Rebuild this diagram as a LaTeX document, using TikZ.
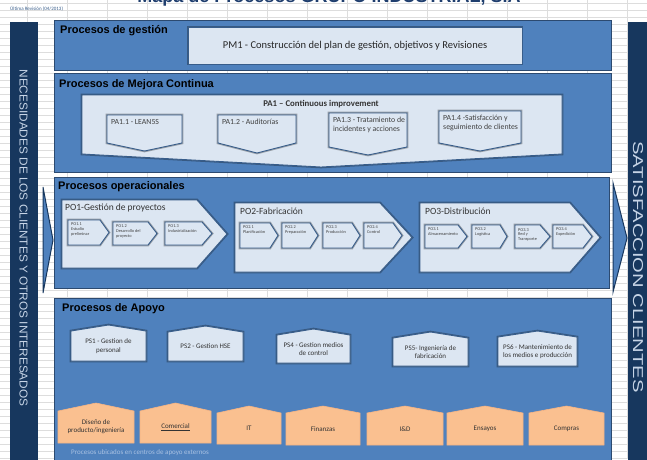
\documentclass[tikz,border=0pt]{standalone}
\usepackage{graphicx}
\usepackage{fontspec}
\setmainfont{Carlito}
\newfontfamily\arialf{Liberation Sans}

\definecolor{panelblue}{HTML}{4F81BD}
\definecolor{panelline}{HTML}{2C4A70}
\definecolor{boxfill}{HTML}{DCE6F2}
\definecolor{boxline}{HTML}{385D8A}
\definecolor{navy}{HTML}{17375E}
\definecolor{sidetext}{HTML}{C6D4E6}
\definecolor{orangefill}{HTML}{FAC090}
\definecolor{orangeline}{HTML}{F4B384}
\definecolor{gridgray}{HTML}{DDDDDD}
\definecolor{titleblue}{HTML}{1F3E6E}
\definecolor{notetext}{HTML}{A9C1E2}

\tikzset{
  panel/.style={fill=panelblue, draw=panelline, line width=0.8pt},
  boxst/.style={fill=boxfill, draw=boxline, line width=0.9pt,
    preaction={draw=black, draw opacity=0.3, line width=2.6pt}},
  orangest/.style={fill=orangefill, draw=orangeline, line width=0.6pt},
  sidearrow/.style={fill=panelblue, draw=navy, line width=1pt, line join=miter},
  ptitle/.style={font=\arialf\bfseries\fontsize{11}{12}\selectfont, anchor=west, inner sep=0pt},
  pmtxt/.style={font=\fontsize{10.5}{12}\selectfont, text=black!85},
  patxt/.style={font=\fontsize{7.8}{9}\selectfont, text=black!75, anchor=north west, align=left, inner sep=0pt},
  potitle/.style={font=\fontsize{9.5}{11}\selectfont, text=black!80, anchor=west, inner sep=0pt},
  optxt/.style={font=\fontsize{4.3}{4.9}\selectfont, text=black!75, anchor=north west, align=left, inner sep=0pt},
  pstxt/.style={font=\fontsize{7}{8.4}\selectfont, text=black!80, align=center, inner sep=0pt},
  ortxt/.style={font=\fontsize{7}{8.2}\selectfont, text=black!80, align=center, inner sep=0pt},
}

% right-pointing home plate: style, name, x-left, y-top, x-body-end, x-apex, y-bottom, text
\newcommand\homeR[8]{%
  \path[#1] (#3,#4) -- (#5,#4) -- (#6,{(#4+#7)/2}) -- (#5,#7) -- (#3,#7) -- cycle;
  \node[optxt] (#2) at (#3+3,#4+3) {#8};}
% downward pentagon: style, name, x-left, x-right, y-top, y-side, y-point, text
\newcommand\downPent[8]{%
  \path[#1] (#3,#5) -- (#4,#5) -- (#4,#6) -- ({(#3+#4)/2},#7) -- (#3,#6) -- cycle;
  \node[patxt] (#2) at (#3+4,#5+4) {#8};}
% house shape: style, name, x-left, x-right, y-peak, y-shoulder, y-bottom, text style, text
\newcommand\upPent[9]{%
  \path[#1] (#3,#6) -- ({(#3+#4)/2},#5) -- (#4,#6) -- (#4,#7) -- (#3,#7) -- cycle;
  \node[#8] (#2) at ({(#3+#4)/2},{(#6+#7)/2}) {#9};}

\begin{document}
\begin{tikzpicture}[x=1pt, y=-1pt]
\useasboundingbox (0,0) rectangle (647,459);
\begin{scope}
\clip (0,0) rectangle (647,459);

% sheet grid
\foreach \gx in {27,67,...,627} \draw[gridgray, line width=0.5pt] (\gx,0) -- (\gx,459);
\foreach \gy in {3,10,...,458} \draw[gridgray, line width=0.5pt] (0,\gy) -- (647,\gy);

% sheet heading and revision note
\node[font=\arialf\bfseries\fontsize{18}{20}\selectfont, text=titleblue, anchor=base, inner sep=0pt]
  (heading) at (329,2) {Mapa de Procesos GRUPO INDUSTRIAL, S.A};
\node[font=\fontsize{5}{6}\selectfont, text=boxline, anchor=west, inner sep=0pt]
  (rev) at (10,9) {Última Revisión (04/2013)};

% side bars
\fill[navy] (10,22) rectangle (38,462);
\fill[navy] (628,22) rectangle (650,462);
\node[rotate=-90, text=sidetext, inner sep=0pt] (needs) at (23.5,238)
  {\resizebox{337pt}{8pt}{\arialf NECESIDADES DE LOS CLIENTES Y OTROS INTERESADOS}};
\node[rotate=-90, text=sidetext, inner sep=0pt] (satisf) at (638,267)
  {\resizebox{251pt}{10pt}{\arialf SATISFACCION CLIENTES}};

% ---------- management ----------
\path[panel] (54,20) rectangle (611,70);
\node[ptitle] (tgest) at (60,31) {Procesos de gestión};
\path[boxst] (188,27) rectangle (522,64);
\node[pmtxt] (pm1) at (355,46) {PM1 - Construcción del plan de gestión, objetivos y Revisiones};

% ---------- continuous improvement ----------
\path[panel] (54,73) rectangle (611,172);
\node[ptitle] (tmejora) at (59,85) {Procesos de Mejora Continua};
\path[boxst] (82,95) -- (562,95) -- (562,154) -- (321,167) -- (82,154) -- cycle;
\node[font=\bfseries\fontsize{8.8}{10}\selectfont, text=black!80] (pa1) at (321,104) {PA1 – Continuous improvement};
\downPent{boxst}{pa11}{107}{182}{115}{143}{151}{PA1.1 - LEAN5S}
\downPent{boxst}{pa12}{218}{296}{115}{143}{153}{PA1.2 - Auditorías}
\downPent{boxst}{pa13}{329}{407}{113}{147}{155}{PA1.3 - Tratamiento de\\incidentes y acciones}
\downPent{boxst}{pa14}{439}{521}{111}{143}{151}{PA1.4 -Satisfacción y\\seguimiento de clientes}

% ---------- operational ----------
\path[panel] (54,177) rectangle (609,288);
\node[ptitle] (toper) at (58,187) {Procesos operacionales};

\path[boxst] (62,200) -- (197,200) -- (227,234) -- (197,268) -- (62,268) -- cycle;
\node[potitle] (po1) at (65,208) {PO1-Gestión de proyectos};
\homeR{boxst}{po11}{68}{220}{100}{109}{245}{PO1.1\\Estudio\\preliminar}
\homeR{boxst}{po12}{113}{222}{148}{157}{245}{PO1.2\\Desarrollo del\\proyecto}
\homeR{boxst}{po13}{165}{222}{202}{212}{245}{PO1.3\\Industrialización}

\path[boxst] (235,203) -- (380,203) -- (412,237.5) -- (380,272) -- (235,272) -- cycle;
\node[potitle] (po2) at (240,211) {PO2-Fabricación};
\homeR{boxst}{po21}{240}{223}{270}{278}{248}{PO2.1\\Planificación}
\homeR{boxst}{po22}{282}{223}{310}{318}{248}{PO2.2\\Preparación}
\homeR{boxst}{po23}{323}{223}{352}{360}{248}{PO2.3\\Producción}
\homeR{boxst}{po24}{364}{223}{393}{402}{248}{PO2.4\\Control}

\path[boxst] (420,203) -- (570,203) -- (600,237.5) -- (570,272) -- (420,272) -- cycle;
\node[potitle] (po3) at (425,211) {PO3-Distribución};
\homeR{boxst}{po31}{425}{225}{458}{467}{248}{PO3.1\\Almacenamiento}
\homeR{boxst}{po32}{472}{225}{500}{507}{248}{PO3.2\\Logística}
\homeR{boxst}{po33}{515}{225}{540}{550}{248}{PO3.3\\Red y\\Transporte}
\homeR{boxst}{po34}{553}{225}{583}{592}{248}{PO3.4\\Expedición}

% flow arrows at the sides
\path[sidearrow] (43,187) -- (53,240) -- (43,293) -- cycle;
\path[sidearrow] (613,183) -- (627,238) -- (613,292) -- cycle;

% ---------- support ----------
\path[panel] (54,298) rectangle (611,462);
\node[ptitle] (tapoyo) at (62,309) {Procesos de Apoyo};
\upPent{boxst}{ps1}{71}{146}{325}{331}{361}{pstxt}{PS1 - Gestion de\\personal}
\upPent{boxst}{ps2}{168}{243}{326}{332}{361}{pstxt}{PS2 - Gestion HSE}
\upPent{boxst}{ps4}{277}{350}{329}{335}{363}{pstxt}{PS4 - Gestion medios\\de control}
\upPent{boxst}{ps5}{393}{468}{332}{338}{366}{pstxt}{PS5- Ingeniería de\\fabricación}
\upPent{boxst}{ps6}{498}{577}{331}{337}{366}{pstxt}{PS6 - Mantenimiento de\\los medios e producción}

\upPent{orangest}{ext1}{58}{134}{403}{411}{443}{ortxt}{Diseño de\\producto/ingeniería}
\upPent{orangest}{ext2}{140}{211}{403}{411}{443}{ortxt}{\underline{Comercial}}
\upPent{orangest}{ext3}{217}{281}{406}{413}{444}{ortxt}{IT}
\upPent{orangest}{ext4}{286}{360}{406}{413}{445}{ortxt}{Finanzas}
\upPent{orangest}{ext5}{367}{443}{406}{413}{445}{ortxt}{I\&D}
\upPent{orangest}{ext6}{447}{523}{406}{413}{445}{ortxt}{Ensayos}
\upPent{orangest}{ext7}{529}{604}{406}{413}{445}{ortxt}{Compras}
\node[font=\fontsize{7}{8}\selectfont, text=notetext, anchor=west, inner sep=0pt]
  (extnote) at (71,453) {Procesos ubicados en centros de apoyo externos};
\end{scope}
\end{tikzpicture}
\end{document}
